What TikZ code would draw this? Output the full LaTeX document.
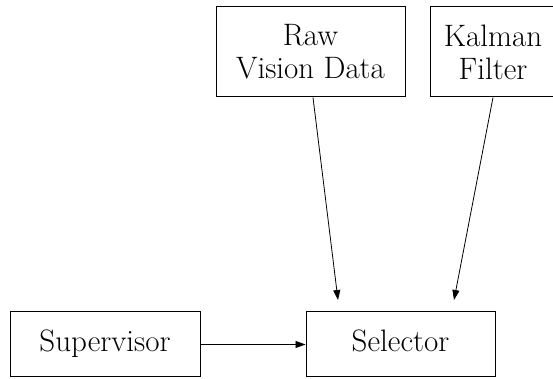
\documentclass[tikz,border=0pt]{standalone}
\usetikzlibrary{arrows.meta}
\begin{document}
\begin{tikzpicture}[x=1pt,y=1pt,
  blockbox/.style={draw, line width=1pt, minimum height=#1, inner sep=0pt,
    align=center, font=\fontsize{31}{33}\selectfont},
  oneline/.style={text height=21pt, text depth=7pt},
  flow/.style={line width=0.8pt, -{Triangle[length=10pt,width=7pt]}}]
  \useasboundingbox (0,0) rectangle (553,379);
  \fill[white] (0,0) rectangle (553,379);
  % input sources
  \node[blockbox=90pt, minimum width=189pt] (raw) at (310.5,327) {Raw\\Vision Data};
  \node[blockbox=90pt, minimum width=126pt] (kal) at (493,327) {Kalman\\Filter};
  % lower row
  \node[blockbox=65pt, oneline, minimum width=190pt] (sup) at (105,34.5) {Supervisor};
  \node[blockbox=65pt, oneline, minimum width=189pt] (sel) at (400.5,34.5) {Selector};
  % arrow tips stop just above the selector
  \coordinate (rawend) at (338,79);
  \coordinate (kalend) at (454,79);
  \draw[flow] (raw.south -| 313,0) -- (rawend);
  \draw[flow] (kal.south) -- (kalend);
  \draw[flow] (sup.east) -- (sel.west);
\end{tikzpicture}
\end{document}
